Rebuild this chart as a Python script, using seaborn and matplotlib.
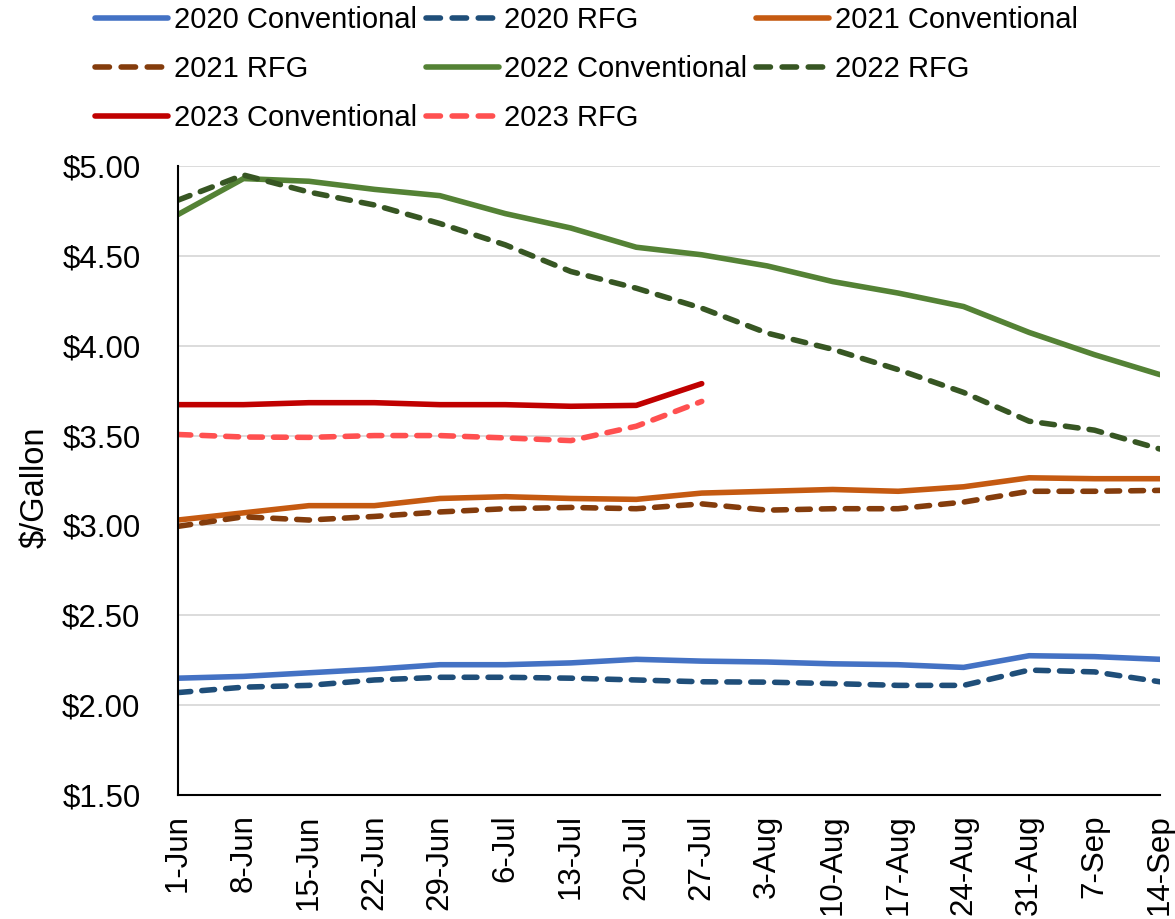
import matplotlib
matplotlib.use("Agg")
import matplotlib.pyplot as plt
import matplotlib.ticker as mticker
from matplotlib.lines import Line2D
import numpy as np
import pandas as pd
import seaborn as sns

# Weekly retail gasoline prices, June through mid-September
weeks = ["1-Jun", "8-Jun", "15-Jun", "22-Jun", "29-Jun", "6-Jul", "13-Jul", "20-Jul",
         "27-Jul", "3-Aug", "10-Aug", "17-Aug", "24-Aug", "31-Aug", "7-Sep", "14-Sep"]

conv_2020 = [2.15, 2.16, 2.18, 2.20, 2.225, 2.225, 2.235, 2.255, 2.245, 2.24, 2.23, 2.225, 2.21, 2.275, 2.27, 2.255]
rfg_2020 = [2.07, 2.10, 2.11, 2.14, 2.155, 2.155, 2.15, 2.14, 2.13, 2.128, 2.12, 2.11, 2.11, 2.195, 2.185, 2.13]
conv_2021 = [3.03, 3.07, 3.11, 3.11, 3.15, 3.16, 3.15, 3.145, 3.18, 3.19, 3.20, 3.19, 3.215, 3.265, 3.26, 3.26]
rfg_2021 = [2.995, 3.048, 3.03, 3.05, 3.075, 3.093, 3.10, 3.093, 3.12, 3.085, 3.093, 3.093, 3.13, 3.19, 3.19, 3.195]
conv_2022 = [4.73, 4.93, 4.915, 4.87, 4.835, 4.735, 4.655, 4.548, 4.506, 4.444, 4.357, 4.293, 4.218, 4.074, 3.95, 3.839]
rfg_2022 = [4.81, 4.95, 4.855, 4.783, 4.68, 4.561, 4.413, 4.32, 4.209, 4.07, 3.98, 3.867, 3.74, 3.58, 3.53, 3.425]
conv_2023 = [3.672, 3.672, 3.683, 3.683, 3.672, 3.672, 3.663, 3.668, 3.789]
rfg_2023 = [3.506, 3.492, 3.49, 3.50, 3.50, 3.487, 3.472, 3.552, 3.69]

series = [
    ("2020 Conventional", conv_2020, "#4472C4", False),
    ("2020 RFG", rfg_2020, "#1F4E79", True),
    ("2021 Conventional", conv_2021, "#C55A11", False),
    ("2021 RFG", rfg_2021, "#843C0C", True),
    ("2022 Conventional", conv_2022, "#548235", False),
    ("2022 RFG", rfg_2022, "#375623", True),
    ("2023 Conventional", conv_2023, "#C00000", False),
    ("2023 RFG", rfg_2023, "#FF5050", True),
]

sns.set_theme(style="white")
plt.rcParams["font.family"] = ["Liberation Sans", "DejaVu Sans"]
plt.rcParams["text.color"] = "black"
plt.rcParams["xtick.color"] = "black"
plt.rcParams["ytick.color"] = "black"
plt.rcParams["axes.labelcolor"] = "black"

fig = plt.figure(figsize=(11.75, 9.19), dpi=100)
ax = fig.add_axes([178 / 1175, 1 - 795 / 919, (1160 - 178) / 1175, (795 - 166) / 919])

lw = 4.0
legend_handles = []
for name, vals, color, dashed in series:
    df = pd.DataFrame({"week": np.arange(len(vals)), "price": vals})
    n_before = len(ax.lines)
    sns.lineplot(data=df, x="week", y="price", ax=ax, color=color, linewidth=lw,
                 legend=False, sort=False)
    line = ax.lines[n_before]
    line.set_label(name)
    line.set_solid_capstyle("round")
    line.set_solid_joinstyle("round")
    proxy = Line2D([], [], color=color, linewidth=lw, solid_capstyle="round")
    if dashed:
        line.set_dashes((2.3, 2.0))
        line.set_dash_capstyle("round")
        # legend key: three whole dashes across the key length
        proxy.set_dashes((2.6, 2.1))
        proxy.set_dash_capstyle("round")
    legend_handles.append((proxy, name))

ax.set_xlim(0, len(weeks) - 1)
ax.set_ylim(1.5, 5.0)
ax.set_xticks(np.arange(len(weeks)))
ax.set_xticklabels(weeks, rotation=90, fontsize=22.5)
ax.yaxis.set_major_locator(mticker.MultipleLocator(0.5))
ax.yaxis.set_major_formatter(mticker.FuncFormatter(lambda v, p: f"${v:.2f}"))
ax.tick_params(axis="y", labelsize=22.5, length=0, pad=27)
ax.tick_params(axis="x", length=0, pad=14)
ax.set_xlabel("")
ax.set_ylabel("$/Gallon", fontsize=23.5)
ax.yaxis.set_label_coords((51 - 178) / 982, 0.49)

ax.grid(axis="y", color="#D9D9D9", linewidth=1.3)
ax.grid(axis="x", visible=False)
ax.set_axisbelow(True)
for side in ["top", "right"]:
    ax.spines[side].set_visible(False)
for side in ["left", "bottom"]:
    ax.spines[side].set_color("#000000")
    ax.spines[side].set_linewidth(1.5)

# legend laid out row by row in three columns
order = [0, 3, 6, 1, 4, 7, 2, 5]
fig.legend([legend_handles[i][0] for i in order], [legend_handles[i][1] for i in order],
           loc="upper left", bbox_to_anchor=(95 / 1175, 1 - 6 / 919), ncol=3, frameon=False,
           fontsize=21, handlelength=2.5, handletextpad=0.2, columnspacing=0.3,
           labelspacing=0.72, borderpad=0.0, borderaxespad=0.0)

fig.savefig("out.png", dpi=100, facecolor="white")
